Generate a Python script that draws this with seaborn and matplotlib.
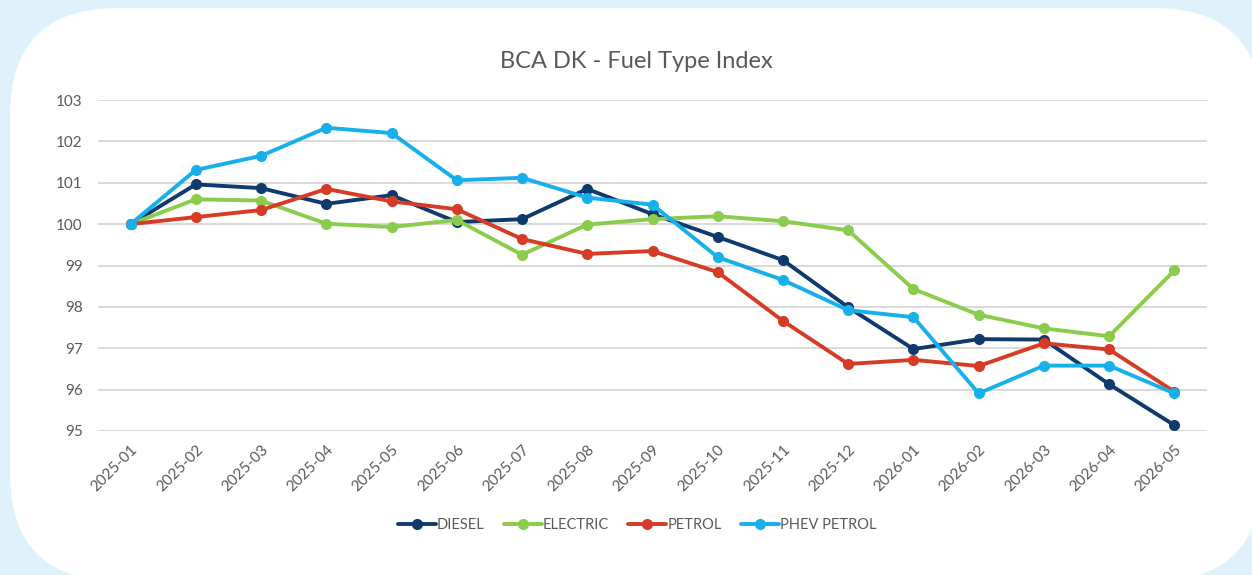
import matplotlib
matplotlib.use("Agg")
import matplotlib.pyplot as plt
from matplotlib.patches import FancyBboxPatch
from matplotlib.transforms import IdentityTransform
from matplotlib.lines import Line2D
import seaborn as sns
import pandas as pd

months = ["2025-01", "2025-02", "2025-03", "2025-04", "2025-05", "2025-06", "2025-07",
          "2025-08", "2025-09", "2025-10", "2025-11", "2025-12", "2026-01", "2026-02",
          "2026-03", "2026-04", "2026-05"]
diesel = [100.0, 100.96, 100.87, 100.49, 100.70, 100.05, 100.12, 100.85, 100.24, 99.69,
          99.13, 97.99, 96.98, 97.22, 97.21, 96.13, 95.14]
electric = [100.0, 100.60, 100.57, 100.01, 99.93, 100.10, 99.26, 99.99, 100.12, 100.19,
            100.07, 99.85, 98.43, 97.81, 97.48, 97.29, 98.88]
petrol = [100.0, 100.17, 100.34, 100.85, 100.55, 100.36, 99.64, 99.28, 99.35, 98.84,
          97.66, 96.62, 96.72, 96.57, 97.12, 96.97, 95.95]
phev = [100.0, 101.31, 101.65, 102.33, 102.20, 101.06, 101.12, 100.64, 100.47, 99.20,
        98.65, 97.92, 97.75, 95.91, 96.58, 96.58, 95.91]
series_names = ["DIESEL", "ELECTRIC", "PETROL", "PHEV PETROL"]
colors = ["#0e3a6e", "#8ccc4c", "#d63b26", "#17b0eb"]
yticks = [95, 96, 97, 98, 99, 100, 101, 102, 103]
title = "BCA DK - Fuel Type Index"

frames = []
for name, vals in zip(series_names, [diesel, electric, petrol, phev]):
    frames.append(pd.DataFrame({"month": months, "idx": list(range(len(months))),
                                "value": vals, "series": name}))
df = pd.concat(frames, ignore_index=True)

sns.set_theme(style="white")
plt.rcParams["font.family"] = ["Lato", "DejaVu Sans"]

W, H = 1252, 575
fig = plt.figure(figsize=(W / 100, H / 100), dpi=100)
fig.patch.set_facecolor("#dff1fb")

panel = FancyBboxPatch((10, -6), 1252, 575 - 8 + 6,
                       boxstyle="round,pad=0,rounding_size=108",
                       transform=IdentityTransform(), facecolor="white",
                       edgecolor="none", zorder=-10)
fig.patches.append(panel)

ax = fig.add_axes([98 / W, 1 - 431 / H, (1207 - 98) / W, (431 - 100) / H], zorder=5)
ax.set_facecolor("none")

sns.lineplot(data=df, x="idx", y="value", hue="series", palette=colors,
             hue_order=series_names, marker="o", markersize=8, markeredgewidth=0,
             linewidth=2.8, ax=ax, legend=False, sort=False)

ax.set_xlim(-0.5, len(months) - 0.5)
ax.set_ylim(95, 103)
ax.set_yticks(yticks)
ax.set_yticklabels([str(v) for v in yticks], fontsize=11, color="#595959")
ax.set_xticks(range(len(months)))
ax.set_xticklabels(months, rotation=45, ha="right", rotation_mode="anchor",
                   fontsize=11, color="#595959")
ax.tick_params(axis="both", length=0)
ax.tick_params(axis="y", pad=11)
ax.tick_params(axis="x", pad=8)
ax.grid(axis="y", color="#d9d9d9", linewidth=1.4)
ax.grid(axis="x", visible=False)
ax.set_axisbelow(True)
for s in ax.spines.values():
    s.set_visible(False)
ax.set_xlabel("")
ax.set_ylabel("")

fig.text(0.508, 1 - 62 / H, title, ha="center", va="center", fontsize=17,
         color="#595959")

handles = [Line2D([], [], color=c, linewidth=2.8, marker="o", markersize=8,
                  markeredgewidth=0) for c in colors]
leg = fig.legend(handles, series_names, loc="center", bbox_to_anchor=(0.509, 1 - 525 / H),
                 ncol=4, frameon=False, fontsize=10.5, handlelength=2.6,
                 handletextpad=0.1, columnspacing=1.3)
for t in leg.get_texts():
    t.set_color("#595959")

fig.savefig("out.png", dpi=100, facecolor=fig.get_facecolor())
